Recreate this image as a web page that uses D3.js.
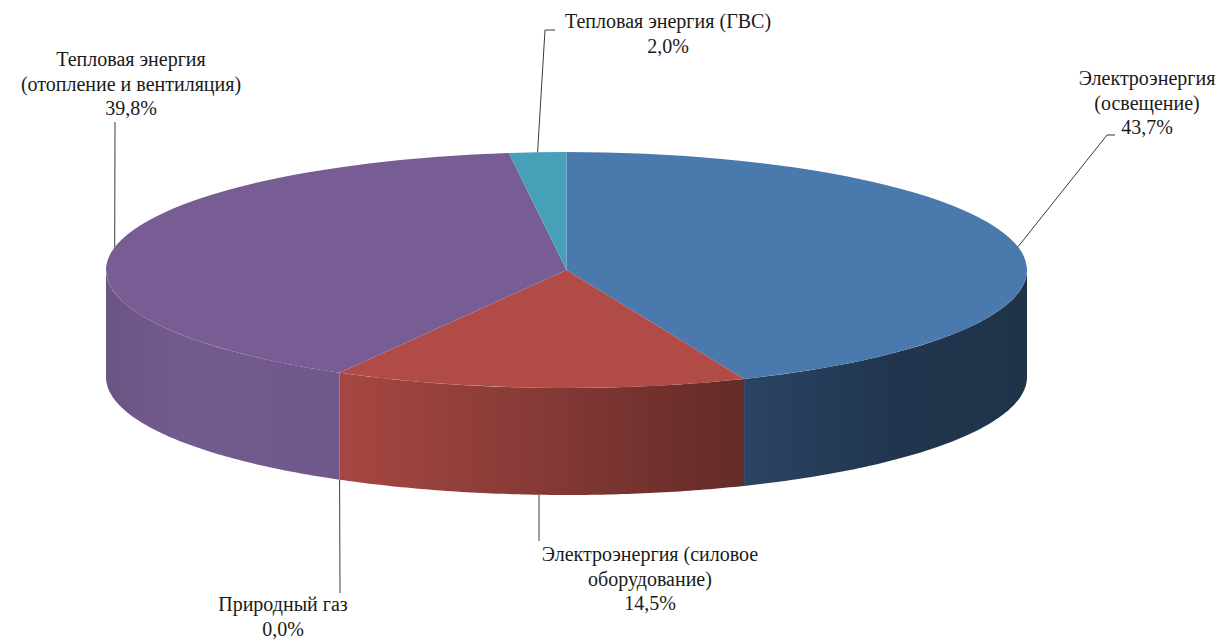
<!DOCTYPE html>
<html>
<head>
<meta charset="utf-8">
<script src="https://cdn.jsdelivr.net/npm/d3@7"></script>
<style>
  html, body { margin: 0; padding: 0; background: #fff; }
  svg { display: block; }
</style>
</head>
<body>
<div id="pie-chart"></div>
<script>
// data
const categories = [
    ['Электроэнергия', '(освещение)'],
    ['Электроэнергия (силовое', 'оборудование)'],
    ['Природный газ'],
    ['Тепловая энергия', '(отопление и вентиляция)'],
    ['Тепловая энергия (ГВС)']
];
const values = [43.7, 14.5, 0.0, 39.8, 2.0];
const colors = ['#4a79ae', '#b04b47', '#8aa44f', '#775d93', '#45a0b8'];

// label placement: centre x, first baseline, leader elbow/end points
const labelPos = [
    { x: 1147, y: 85,  leader: [[1107, 135], [1115, 135]] },
    { x: 650,  y: 561, leader: [[539, 541]] },
    { x: 283,  y: 611, leader: [[340, 593]] },
    { x: 131,  y: 66,  leader: [[115, 122]] },
    { x: 668,  y: 28,  leader: [[545, 30], [555, 30]] }
];

const width = 1225, height = 640;
const cx = 566.5, cy = 270, rx = 460.5, ry = 118, depth = 107;

const svg = d3.select('#pie-chart')
    .append('svg')
    .attr('width', width)
    .attr('height', height);

const pie = d3.pie().sort(null).value(d => d)(values);

const px = a => cx + rx * Math.sin(a);
const py = a => cy - ry * Math.cos(a);

// side shading across the width (lighter left, darker right)
const shade = [[0, 0.9], [0.08, 0.97], [0.25, 0.95], [0.45, 0.78], [0.69, 0.57], [0.85, 0.45], [1, 0.42]];
const defs = svg.append('defs');
colors.forEach((c, i) => {
    const g = defs.append('linearGradient')
        .attr('id', 'side' + i)
        .attr('gradientUnits', 'userSpaceOnUse')
        .attr('x1', cx - rx).attr('x2', cx + rx)
        .attr('y1', 0).attr('y2', 0);
    const base = d3.rgb(c);
    shade.forEach(s => {
        g.append('stop')
            .attr('offset', s[0])
            .attr('stop-color', d3.rgb(base.r * s[1], base.g * s[1], base.b * s[1]).formatHex());
    });
});

// side walls (front half only)
const line = d3.line();
pie.forEach((d, i) => {
    const a0 = Math.max(d.startAngle, Math.PI / 2);
    const a1 = Math.min(d.endAngle, Math.PI * 1.5);
    if (a1 <= a0) return;
    const n = 80;
    const top = d3.range(n + 1).map(k => a0 + (a1 - a0) * k / n);
    const pts = top.map(a => [px(a), py(a)])
        .concat(top.slice().reverse().map(a => [px(a), py(a) + depth]));
    svg.append('path')
        .attr('d', line(pts) + 'Z')
        .attr('fill', 'url(#side' + i + ')');
});

// top faces
const arc = d3.arc().innerRadius(0).outerRadius(rx);
svg.append('g')
    .attr('transform', 'translate(' + cx + ',' + cy + ') scale(1,' + (ry / rx) + ')')
    .selectAll('path')
    .data(pie)
    .enter()
    .append('path')
    .attr('d', arc)
    .attr('fill', (d, i) => colors[i]);

// leader lines and labels
pie.forEach((d, i) => {
    const m = (d.startAngle + d.endAngle) / 2;
    const front = m > Math.PI / 2 && m < Math.PI * 1.5;
    const start = [px(m), py(m) + (front ? depth : 0)];
    svg.append('path')
        .attr('d', line([start].concat(labelPos[i].leader)))
        .attr('fill', 'none')
        .attr('stroke', '#3a3a3a')
        .attr('stroke-width', 1);

    const lines = categories[i].concat([d3.format('.1f')(values[i]).replace('.', ',') + '%']);
    const t = svg.append('text')
        .attr('text-anchor', 'middle')
        .attr('font-family', '"Liberation Serif", "Times New Roman", Tinos, "DejaVu Serif", serif')
        .attr('font-size', 20)
        .attr('fill', '#1a1a1a');
    lines.forEach((s, k) => {
        t.append('tspan')
            .attr('x', labelPos[i].x)
            .attr('y', labelPos[i].y + k * 24.5)
            .text(s);
    });
});
</script>
</body>
</html>
